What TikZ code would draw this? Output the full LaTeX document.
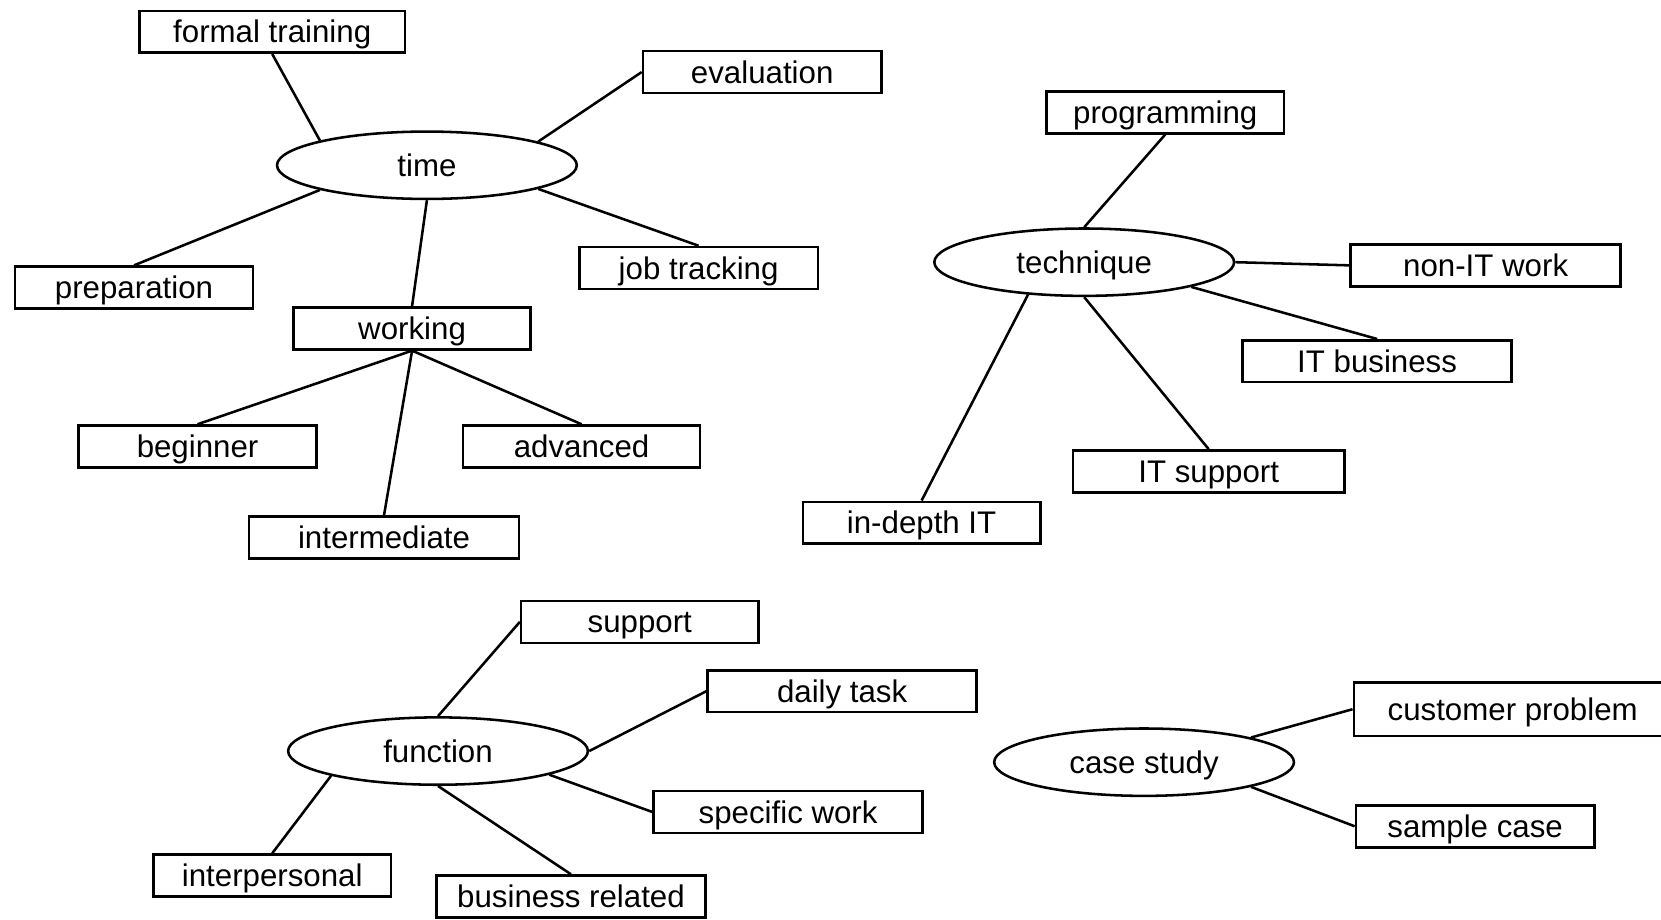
\documentclass[tikz,border=0pt]{standalone}
\usepackage{fontspec}
\setmainfont{Liberation Sans}
\usetikzlibrary{shapes.geometric}

\begin{document}
\begin{tikzpicture}[x=1pt,y=-1pt,line width=2.4pt,
    box/.style={draw, rectangle, minimum height=39.6pt, inner sep=0pt,
      text height=21pt, text depth=0pt, font=\fontsize{29.5}{35}\selectfont},
    topic/.style={draw, ellipse, minimum width=283pt, minimum height=63.6pt, inner sep=0pt,
      text height=21pt, text depth=0pt, font=\fontsize{29.5}{35}\selectfont}]
  \useasboundingbox (0,0) rectangle (1568,868);

  % TIME
  \node[topic] (time) at (403,156) {time};
  \node[box, minimum width=251pt] (ft) at (257,30) {formal training};
  \node[box, minimum width=225pt] (eval) at (719.5,68) {evaluation};
  \node[box, minimum width=225pt] (prep) at (126.5,271.5) {preparation};
  \node[box, minimum width=225pt] (job) at (659.5,253) {job tracking};
  \node[box, minimum width=224pt] (work) at (389,310) {working};
  \node[box, minimum width=225pt] (beg) at (186.5,421.5) {beginner};
  \node[box, minimum width=224pt] (adv) at (549,421.5) {advanced};
  \node[box, minimum width=255pt] (inter) at (362.5,507.5) {intermediate};

  % TECHNIQUE
  \node[topic] (tech) at (1023.5,247.5) {technique};
  \node[box, minimum width=224pt] (prog) at (1100,106) {programming};
  \node[box, minimum width=255pt] (nonit) at (1402.5,250.5) {non-IT work};
  \node[box, minimum width=254pt] (itb) at (1300,341) {IT business};
  \node[box, minimum width=256pt] (itsup) at (1141,445) {IT support};
  \node[box, minimum width=224pt] (indepth) at (870,493.5) {in-depth IT};

  % FUNCTION
  \node[topic] (func) at (413.5,709) {function};
  \node[box, minimum width=224pt] (sup) at (604,587) {support};
  \node[box, minimum width=254pt] (daily) at (795,652.5) {daily task};
  \node[box, minimum width=254pt] (spec) at (744,766.5) {specific work};
  \node[box, minimum width=224pt] (interp) at (257,826.5) {interpersonal};
  \node[box, minimum width=254pt] (busrel) at (539,846.3) {business related};

  % CASE STUDY
  \node[topic] (case) at (1080,719.5) {case study};
  \node[box, minimum width=300pt, minimum height=50.6pt] (cust) at (1428,669.5) {customer problem};
  \node[box, minimum width=225pt] (sample) at (1392.5,780) {sample case};

  % LINES
  \draw (time.167) -- (ft.south);
  \draw (time.12) -- (eval.west);
  \draw (time.193) -- (prep.north);
  \draw (time.348) -- (job.north);
  \draw (time.south) -- (work.north);
  \draw (work.south) -- (beg.north);
  \draw (work.south) -- (adv.north);
  \draw (work.south) -- (inter.north);

  \draw (tech.north) -- (prog.south);
  \draw (tech.east) -- (nonit.west);
  \draw (tech.347) -- (itb.north);
  \draw (tech.south) -- (itsup.north);
  \draw (tech.210) -- (indepth.north);

  \draw (func.north) -- (sup.west);
  \draw (func.east) -- (daily.west);
  \draw (func.348) -- (spec.west);
  \draw (func.193) -- (interp.north);
  \draw (func.south) -- (busrel.north);

  \draw (case.13) -- (cust.west);
  \draw (case.347) -- (sample.west);
\end{tikzpicture}
\end{document}
